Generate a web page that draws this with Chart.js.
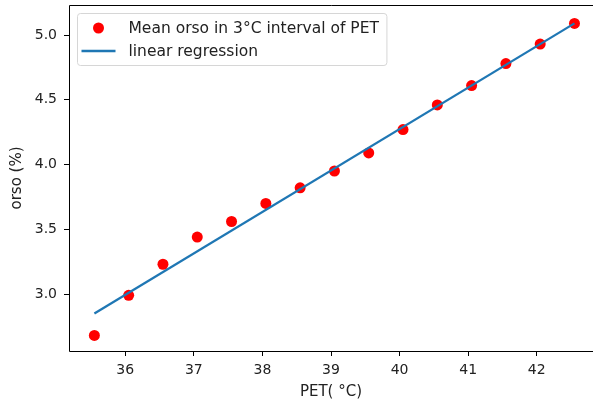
<!DOCTYPE html>
<html>
  <head>
    <meta charset="utf-8">
    <title>orso vs PET</title>
    <script src="https://cdn.jsdelivr.net/npm/chart.js@4"></script>
    <style>
    html, body {
      margin: 0;
      padding: 0;
      background: #fff;
      overflow: hidden;
    }
    canvas {
      display: block;
    }
  </style>
  </head>
  <body>
    <canvas id="orsoChart" width="593" height="401"></canvas>
    <script>
    // Mean orso per 3°C PET interval
    const petCentres = [35.55, 36.05, 36.55, 37.05, 37.55, 38.05, 38.55, 39.05,
                        39.55, 40.05, 40.55, 41.05, 41.55, 42.05, 42.55];
    const meanOrso = [2.68, 2.99, 3.23, 3.44, 3.56, 3.70, 3.82, 3.95,
                      4.09, 4.27, 4.46, 4.61, 4.78, 4.93, 5.09];

    // end points of the fitted regression line
    const fitX = [35.55, 42.55];
    const fitY = [2.85, 5.09];

    const xTicks = [36, 37, 38, 39, 40, 41, 42];
    const yTicks = [3.0, 3.5, 4.0, 4.5, 5.0];

    const FONT = "'DejaVu Sans', sans-serif";
    const TEXT = "#222";

    // frame (top/left/bottom spines) + legend box inside the axes
    const framePlugin = {
      id: "frame",
      afterDatasetsDraw(chart) {
        const { ctx, chartArea: a } = chart;
        ctx.save();
        ctx.strokeStyle = "#000";
        ctx.lineWidth = 1;
        ctx.beginPath();
        ctx.moveTo(a.right + 2, a.top + 0.5);
        ctx.lineTo(a.left + 0.5, a.top + 0.5);
        ctx.lineTo(a.left + 0.5, a.bottom + 0.5);
        ctx.lineTo(a.right + 2, a.bottom + 0.5);
        ctx.stroke();

        // legend
        const sets = chart.data.datasets;
        ctx.font = "15.5px " + FONT;
        let w = 0;
        sets.forEach((d) => { w = Math.max(w, ctx.measureText(d.label).width); });
        const x0 = a.left + 8.5, y0 = a.top + 8.5;
        const bw = 51 + w + 8, bh = 52;
        ctx.fillStyle = "rgba(255,255,255,0.8)";
        ctx.strokeStyle = "#d6d6d6";
        ctx.beginPath();
        ctx.roundRect(x0, y0, bw, bh, 3);
        ctx.fill();
        ctx.stroke();
        ctx.textBaseline = "middle";
        sets.forEach((d, i) => {
          const cy = y0 + 14.5 + i * 23;
          if (d.showLine) {
            ctx.strokeStyle = d.borderColor;
            ctx.lineWidth = d.borderWidth;
            ctx.beginPath();
            ctx.moveTo(x0 + 4, cy);
            ctx.lineTo(x0 + 38, cy);
            ctx.stroke();
          } else {
            ctx.fillStyle = d.backgroundColor;
            ctx.beginPath();
            ctx.arc(x0 + 21, cy, d.pointRadius, 0, Math.PI * 2);
            ctx.fill();
          }
          ctx.fillStyle = TEXT;
          ctx.fillText(d.label, x0 + 51, cy + 1);
        });
        ctx.restore();
      }
    };

    // kill Chart.js' automatic edge padding so the plot area sits where matplotlib put it
    function noPad(s) {
      s.paddingTop = 0;
      s.paddingBottom = 0;
      s.paddingLeft = 0;
      s.paddingRight = 0;
    }

    const ctx = document.getElementById("orsoChart").getContext("2d");
    new Chart(ctx, {
      type: "scatter",
      data: {
        datasets: [
          {
            label: "Mean orso in 3°C interval of PET",
            data: petCentres.map((x, i) => ({ x: x, y: meanOrso[i] })),
            backgroundColor: "#ff0000",
            borderColor: "#ff0000",
            pointRadius: 5.5,
            pointBorderWidth: 0,
            showLine: false,
            order: 2
          },
          {
            label: "linear regression",
            data: fitX.map((x, i) => ({ x: x, y: fitY[i] })),
            borderColor: "#1f77b4",
            backgroundColor: "#1f77b4",
            borderWidth: 2.3,
            pointRadius: 0,
            showLine: true,
            order: 1
          }
        ]
      },
      options: {
        responsive: false,
        animation: false,
        layout: { autoPadding: false, padding: { top: 5, right: 0, left: 0, bottom: 0 } },
        plugins: {
          legend: { display: false },
          tooltip: { enabled: false }
        },
        scales: {
          x: {
            type: "linear",
            min: 35.18,
            max: 42.82,
            afterBuildTicks: (s) => { s.ticks = xTicks.map((v) => ({ value: v })); },
            afterFit: (s) => { s.height = 50; noPad(s); },
            grid: { drawOnChartArea: false, tickLength: 5, color: "#000" },
            border: { display: false },
            ticks: { color: TEXT, font: { family: FONT, size: 14 }, padding: 6 },
            title: {
              display: true,
              text: "PET( °C)",
              color: TEXT,
              font: { family: FONT, size: 15 },
              padding: { top: 0, bottom: 0 }
            }
          },
          y: {
            type: "linear",
            min: 2.56,
            max: 5.232,
            afterBuildTicks: (s) => { s.ticks = yTicks.map((v) => ({ value: v })); },
            afterFit: (s) => { s.width = 69; noPad(s); },
            grid: { drawOnChartArea: false, tickLength: 5, color: "#000" },
            border: { display: false },
            ticks: {
              color: TEXT,
              font: { family: FONT, size: 14 },
              padding: 7,
              callback: (v) => Number(v).toFixed(1)
            },
            title: {
              display: true,
              text: "orso (%)",
              color: TEXT,
              font: { family: FONT, size: 15 },
              padding: { top: 8, bottom: 0 }
            }
          }
        }
      },
      plugins: [framePlugin]
    });
  </script>
  </body>
</html>
